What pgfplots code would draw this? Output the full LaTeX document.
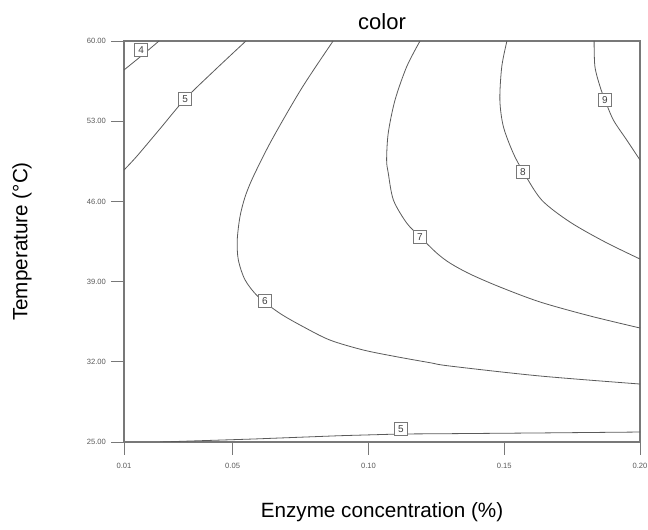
\documentclass[border=0pt]{standalone}
\usepackage{fontspec}
\setmainfont{Liberation Sans}
\usepackage{pgfplots}
\pgfplotsset{compat=1.18}
\definecolor{cline}{RGB}{90,90,90}
\definecolor{boxc}{RGB}{120,120,120}
\begin{document}
\begin{tikzpicture}
\begin{axis}[
  scale only axis,
  width=387pt, height=300.75pt,
  xmin=0.01, xmax=0.20, ymin=25, ymax=60,
  xtick={0.01,0.05,0.10,0.15,0.20},
  xticklabels={0.01,0.05,0.10,0.15,0.20},
  ytick={25,32,39,46,53,60},
  yticklabels={25.00,32.00,39.00,46.00,53.00,60.00},
  tick pos=left,
  tick align=outside,
  major tick length=9.5pt,
  xtick style={boxc, line width=0.6pt},
  ytick style={boxc, line width=0.6pt},
  axis line style={boxc, line width=0.9pt},
  tick label style={font=\fontsize{5.7}{6}\selectfont, text=black!65},
  xticklabel style={yshift=-2.75pt},
  yticklabel style={xshift=-0.5pt},
  title={color},
  title style={font=\fontsize{16.5}{18}\selectfont, at={(rel axis cs:0.5,1)}, anchor=center, yshift=8.25pt},
  xlabel={Enzyme concentration (\%)},
  ylabel={Temperature (°C)},
  every axis x label/.style={at={(rel axis cs:0.5,0)}, anchor=center, yshift=-52.5pt, font=\fontsize{15.5}{17}\selectfont},
  every axis y label/.style={at={(rel axis cs:0,0.5)}, xshift=-76.5pt, rotate=90, anchor=center, font=\fontsize{15.5}{17}\selectfont},
  clip=true,
]
\coordinate (ll) at (rel axis cs:0,0);
\coordinate (ur) at (rel axis cs:1,1);
% contour 4
\addplot[cline, line width=0.6pt, smooth] coordinates {(0.0100,57.47) (0.0164,58.70) (0.0229,60.00)};
% contour 5 upper
\addplot[cline, line width=0.6pt, smooth] coordinates {(0.0100,48.74) (0.0148,49.96) (0.0233,52.35) (0.0325,54.94) (0.0435,57.47) (0.0549,60.00)};
% contour 6
\addplot[cline, line width=0.6pt, smooth] coordinates {
(0.0870,60.00) (0.0755,55.90) (0.0644,51.36) (0.0576,48.16) (0.0546,46.41) (0.0527,44.66)
(0.0517,42.63) (0.0521,40.89) (0.0546,39.14) (0.0594,37.68) (0.0674,36.23) (0.0760,35.06)
(0.0858,33.90) (0.0981,33.03) (0.1104,32.44) (0.1227,31.92) (0.1300,31.63) (0.1632,30.76) (0.2000,30.06)};
% contour 7
\addplot[cline, line width=0.6pt, smooth] coordinates {
(0.1190,60.00) (0.1141,57.76) (0.1098,54.85) (0.1073,51.97) (0.1067,49.61) (0.1073,48.48)
(0.1092,46.12) (0.1141,44.11) (0.1190,42.92) (0.1251,41.50) (0.1300,40.62) (0.1374,39.66)
(0.1484,38.53) (0.1632,37.22) (0.1816,36.00) (0.2000,34.95)};
% contour 8
\addplot[cline, line width=0.6pt, smooth] coordinates {
(0.1510,60.00) (0.1491,57.76) (0.1484,54.85) (0.1497,52.52) (0.1533,50.22) (0.1570,48.59)
(0.1638,46.12) (0.1742,44.20) (0.1871,42.46) (0.2000,40.97)};
% contour 9
\addplot[cline, line width=0.6pt, smooth] coordinates {
(0.1831,60.00) (0.1834,57.76) (0.1853,56.01) (0.1871,54.85) (0.1902,53.10) (0.1951,51.36) (0.2000,49.61)};
% contour 5 lower
\addplot[cline, line width=0.6pt] coordinates {
(0.0233,25.00) (0.0312,25.06) (0.0576,25.26) (0.0895,25.55) (0.1120,25.70) (0.1263,25.72) (0.1632,25.79) (0.2000,25.87)};
% labels
\tikzset{clab/.style={draw=boxc, fill=white, line width=0.5pt, inner sep=1.2pt, font=\fontsize{7.5}{8}\selectfont, text=black!75, minimum width=9.5pt, minimum height=9.5pt}}
\node[clab] at (axis cs:0.0163,59.21) {4};
\node[clab] at (axis cs:0.0325,54.94) {5};
\node[clab] at (axis cs:0.0619,37.31) {6};
\node[clab] at (axis cs:0.1190,42.89) {7};
\node[clab] at (axis cs:0.1569,48.57) {8};
\node[clab] at (axis cs:0.1871,54.85) {9};
\node[clab] at (axis cs:0.1120,26.13) {5};
\end{axis}
\pgfresetboundingbox
\path ([shift={(-93pt,-66pt)}]ll) rectangle ([shift={(6pt,30.75pt)}]ur);
\end{tikzpicture}
\end{document}
